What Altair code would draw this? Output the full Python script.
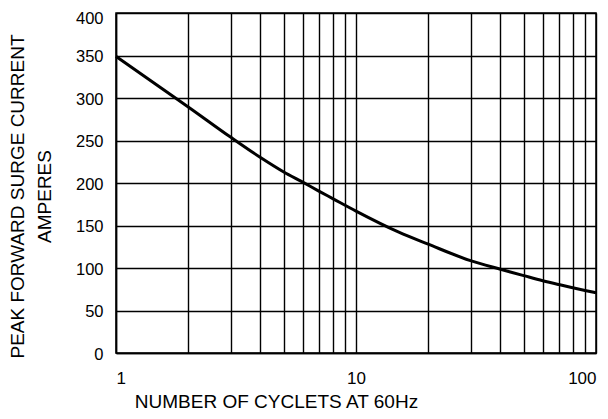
import altair as alt
import pandas as pd

cycles = [1, 1.5, 2, 3, 4, 5, 6, 7, 8, 10, 15, 20, 30, 40, 50, 60, 70, 80, 90, 100]
current = [349, 314, 289.5, 254, 230, 213, 201, 190.5, 181.7, 167, 142.5, 128, 108.6, 98.5, 91, 85, 80.5, 76.8, 73.6, 70.8]

x_grid = [1, 2, 3, 4, 5, 6, 7, 8, 9, 10, 20, 30, 40, 50, 60, 70, 80, 90, 100]
y_ticks = [0, 50, 100, 150, 200, 250, 300, 350, 400]

df = pd.DataFrame({"cycles": cycles, "current": current})

FONT = "Liberation Sans"

chart = alt.Chart(df).mark_line(
    color="black", strokeWidth=3, interpolate="monotone"
).encode(
    x=alt.X(
        "cycles:Q",
        scale=alt.Scale(type="log", domain=[1, 100], nice=False),
        axis=alt.Axis(
            values=x_grid,
            grid=True,
            ticks=False,
            labelExpr="datum.value == 1 || datum.value == 10 || datum.value == 100 ? format(datum.value, 'd') : ''",
            labelPadding=17,
            labelFontSize=17,
            labelColor="black",
            title="NUMBER OF CYCLETS AT 60Hz",
            titleFontSize=19,
            titleFontWeight="normal",
            titleColor="black",
            titleX=276 - 116,
            titleY=58,
            titleBaseline="bottom",
            titleAlign="center",
        ),
    ),
    y=alt.Y(
        "current:Q",
        scale=alt.Scale(domain=[0, 400], nice=False),
        axis=alt.Axis(
            values=y_ticks,
            grid=True,
            ticks=False,
            labelPadding=13,
            labelOffset={"condition": {"test": "datum.value == 400", "value": 5}, "value": 1},
            labelFontSize=16.5,
            labelColor="black",
            title=["PEAK FORWARD SURGE CURRENT", "AMPERES"],
            titleFontSize=19,
            titleFontWeight="normal",
            titleColor="black",
            titleAngle=270,
            titleX=-99,
            titleY=183,
            titleAlign="center",
            titleBaseline="middle",
            titleLineHeight=27,
        ),
    ),
).properties(
    width=480,
    height=340,
    autosize=alt.AutoSizeParams(type="none"),
    padding={"left": 108, "top": 5, "right": 4, "bottom": 58},
).configure_axis(
    gridColor="black",
    gridOpacity=1,
    gridWidth=1.4,
    domainColor="black",
    domainWidth=1.5,
    labelFont=FONT,
    titleFont=FONT,
).configure_view(
    stroke="black",
    strokeWidth=1.5,
)

chart.save("out.html", embed_options={"renderer": "svg", "actions": False})
